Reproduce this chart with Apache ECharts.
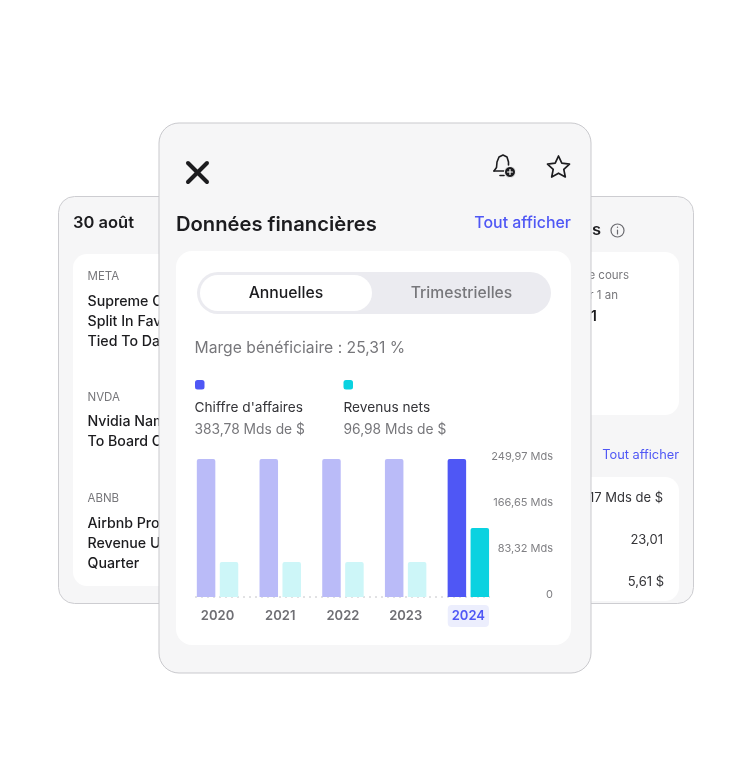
<!DOCTYPE html>
<html>
<head>
<meta charset="utf-8">
<style>
  html, body { margin: 0; padding: 0; background: #fff; }
  #chart { width: 750px; height: 776px; }
</style>
<script src="https://cdn.jsdelivr.net/npm/echarts@6/dist/echarts.min.js"></script>
</head>
<body>
<div id="chart"></div>
<script>
// data
const years = ['2020', '2021', '2022', '2023', '2024']
const revenue = [249.97, 249.97, 249.97, 249.97, 249.97]
const netIncome = [63.5, 63.5, 63.5, 63.5, 125]
const tickValues = [0, 83.32, 166.65, 249.97]
const tickLabels = ['0', '83,32 Mds', '166,65 Mds', '249,97 Mds']
const seriesNames = ["Chiffre d'affaires", 'Revenus nets']
const seriesTotals = ['383,78 Mds de $', '96,98 Mds de $']
const activeYear = '2024'

const font = 'Inter'
const blue = '#4f57f5'
const teal = '#0ad2e0'
const dark = '#1c1c1f'
const grey = '#77777b'

function card(x, y, w, h, r, fill, stroke) {
  return {
    type: 'rect',
    shape: { x, y, width: w, height: h, r },
    style: { fill, stroke: stroke || null, lineWidth: stroke ? 1 : 0 }
  }
}

function label(x, y, text, size, fill, weight, align) {
  return {
    type: 'text',
    x,
    y,
    style: {
      text,
      fill,
      fontFamily: font,
      fontSize: size,
      fontWeight: weight || 400,
      align: align || 'left',
      verticalAlign: 'middle'
    }
  }
}

function line(x1, y1, x2, y2, stroke, lineWidth) {
  return {
    type: 'line',
    shape: { x1, y1, x2, y2 },
    style: { stroke, lineWidth, lineCap: 'round' }
  }
}

// left card, news list (cut off by the main card)
const leftCard = [
  card(58.5, 196.5, 200, 407, 16, '#f6f6f7', '#cdcdd1'),
  card(73, 254, 180, 332, 14, '#ffffff'),
  label(73, 223.5, '30 août', 16.5, dark, 600),
  label(87.5, 277, 'META', 11.5, grey),
  label(87.5, 301.5, 'Supreme Court', 14.2, dark, 500),
  label(87.5, 321.5, 'Split In Favor', 14.2, dark, 500),
  label(87.5, 341.5, 'Tied To Data', 14.2, dark, 500),
  label(87.5, 397.5, 'NVDA', 11.5, grey),
  label(87.5, 421.5, 'Nvidia Names', 14.2, dark, 500),
  label(87.5, 441.5, 'To Board Of', 14.2, dark, 500),
  label(87.5, 498.5, 'ABNB', 11.5, grey),
  label(87.5, 523.5, 'Airbnb Profit', 14.2, dark, 500),
  label(87.5, 543.5, 'Revenue Up', 14.2, dark, 500),
  label(87.5, 563.5, 'Quarter', 14.2, dark, 500)
]

// right card
const rightCard = [
  card(494.5, 196.5, 199, 407, 16, '#f6f6f7', '#cdcdd1'),
  card(500, 252, 179, 163, 14, '#ffffff'),
  card(500, 477, 179, 124, 14, '#ffffff'),
  label(601, 230.5, 's', 16.5, dark, 600, 'right'),
  { type: 'circle', shape: { cx: 617.5, cy: 230.5, r: 6.5 }, style: { fill: null, stroke: '#6b6b70', lineWidth: 1.2 } },
  line(617.5, 230, 617.5, 234, '#6b6b70', 1.2),
  line(617.5, 227.2, 617.5, 227.3, '#6b6b70', 1.4),
  label(629, 275.5, 'de cours', 11.5, grey, 400, 'right'),
  label(618, 295.5, 'sur 1 an', 11.5, grey, 400, 'right'),
  label(597, 316.5, '1', 14.5, dark, 600, 'right'),
  label(679, 455, 'Tout afficher', 12.8, blue, 400, 'right'),
  label(663, 498, '17 Mds de $', 13, '#333337', 400, 'right'),
  label(663, 540, '23,01', 13, '#333337', 400, 'right'),
  label(664, 582, '5,61 $', 13, '#333337', 400, 'right')
]

const bellBody = [[494, 171], [496.5, 167.5], [497, 162], [499, 157], [503, 155], [507, 157], [508.5, 162], [508.5, 165]]
const star = [[558.5, 156], [561.8, 163.2], [569.5, 164.1], [563.8, 169.4], [565.3, 177], [558.5, 173.2], [551.7, 177], [553.2, 169.4], [547.5, 164.1], [555.2, 163.2]]

// main card, header and toggle
const mainCard = [
  card(159, 123, 432, 550, 20, '#f6f6f7', '#c9c9cd'),
  line(188, 163, 207, 182, dark, 4),
  line(207, 163, 188, 182, dark, 4),
  { type: 'polyline', shape: { points: bellBody }, style: { fill: null, stroke: dark, lineWidth: 1.6, lineCap: 'round', lineJoin: 'round' } },
  line(494, 171, 504, 171, dark, 1.6),
  line(500, 175.5, 504, 175.5, dark, 1.6),
  { type: 'circle', shape: { cx: 510, cy: 172, r: 5.5 }, style: { fill: dark, stroke: '#f6f6f7', lineWidth: 1 } },
  line(507.5, 172, 512.5, 172, '#fff', 1.2),
  line(510, 169.5, 510, 174.5, '#fff', 1.2),
  { type: 'polygon', shape: { points: star }, style: { fill: null, stroke: dark, lineWidth: 1.7, lineJoin: 'round' } },
  label(176, 225, 'Données financières', 20.2, dark, 600),
  label(571, 223, 'Tout afficher', 15.9, blue, 500, 'right'),
  card(176, 251, 395, 394, 16, '#ffffff'),
  card(197, 272, 354, 42, 21, '#ebebf0'),
  card(200, 275, 172, 36, 18, '#ffffff'),
  label(286, 293.5, 'Annuelles', 15.8, dark, 500, 'center'),
  label(461.5, 293.5, 'Trimestrielles', 15.7, grey, 500, 'center'),
  label(194.5, 348.5, 'Marge bénéficiaire : 25,31 %', 15.7, grey),
  card(195, 380, 9.5, 9.5, 2.5, blue),
  label(194.5, 408, seriesNames[0], 13.7, '#333337'),
  label(194.5, 430, seriesTotals[0], 13.8, grey),
  card(343.5, 380, 9.5, 9.5, 2.5, teal),
  label(343.5, 408, seriesNames[1], 13.7, '#333337'),
  label(343.5, 430, seriesTotals[1], 13.8, grey),
  {
    type: 'line',
    shape: { x1: 195, y1: 597, x2: 490, y2: 597 },
    style: { stroke: '#c4c4c8', lineWidth: 1, lineDash: [2, 4] }
  }
]

function barColors(values, active, dim) {
  return values.map((v, i) => ({
    value: v,
    itemStyle: { color: years[i] === activeYear ? active : dim }
  }))
}

const chart = echarts.init(document.getElementById('chart'), null, { renderer: 'canvas' })

chart.setOption({
  animation: false,
  backgroundColor: '#ffffff',
  graphic: { elements: [...leftCard, ...rightCard, ...mainCard] },
  grid: { left: 186.2, top: 459, width: 313.5, height: 138 },
  xAxis: {
    type: 'category',
    data: years,
    z: 5,
    axisLine: { show: false },
    axisTick: { show: false },
    axisLabel: {
      interval: 0,
      margin: 8,
      formatter: v => (v === activeYear ? `{hl|${v}}` : `{n|${v}}`),
      rich: {
        n: {
          fontFamily: font,
          fontSize: 13,
          fontWeight: 600,
          color: '#6f6f74',
          padding: [5, 4, 4, 4]
        },
        hl: {
          fontFamily: font,
          fontSize: 13,
          fontWeight: 600,
          color: blue,
          backgroundColor: '#eceefd',
          borderRadius: 4,
          padding: [5, 4, 4, 4]
        }
      }
    }
  },
  yAxis: {
    type: 'value',
    position: 'right',
    min: 0,
    max: tickValues[3],
    interval: tickValues[3] / 3,
    z: 5,
    splitLine: { show: false },
    axisLine: { show: false },
    axisTick: { show: false },
    axisLabel: {
      margin: 53.3,
      align: 'right',
      verticalAlign: 'bottom',
      lineHeight: 4,
      fontFamily: font,
      fontSize: 11,
      color: '#808084',
      formatter: (v, i) => tickLabels[i]
    }
  },
  series: [
    {
      name: seriesNames[0],
      type: 'bar',
      data: barColors(revenue, blue, '#babbf8'),
      barWidth: 18.5,
      barGap: '24%',
      itemStyle: { borderRadius: [2, 2, 0, 0] }
    },
    {
      name: seriesNames[1],
      type: 'bar',
      data: barColors(netIncome, teal, '#cdf6f8'),
      barWidth: 18.5,
      itemStyle: { borderRadius: [2, 2, 0, 0] }
    }
  ]
})
</script>
</body>
</html>
